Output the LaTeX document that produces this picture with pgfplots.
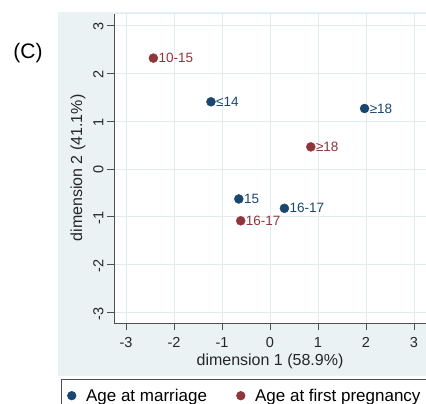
\documentclass[border=0pt]{standalone}
\usepackage{pgfplots}
\pgfplotsset{compat=1.18}
\usepackage{fontspec}
\setmainfont{Liberation Sans}
\definecolor{stblue}{HTML}{1A476F}
\definecolor{stred}{HTML}{90353B}
\definecolor{bgc}{HTML}{EAF2F3}
\definecolor{gridc}{HTML}{E1ECEE}
\definecolor{axc}{HTML}{505050}
\begin{document}
\begin{tikzpicture}[x=1pt,y=1pt]
\path[use as bounding box] (0,0) rectangle (426,-404);
\begin{scope}
\clip (0,0) rectangle (426,-404);
\fill[bgc] (58,-12) rectangle (440,-376);
\node[font=\fontsize{21}{22}\selectfont] at (28,-53) {(C)};
\begin{axis}[
  at={(114pt,-323pt)}, anchor=south west,
  scale only axis, width=312pt, height=310pt,
  xmin=-3.25, xmax=3.25, ymin=-3.21, ymax=3.25,
  axis background/.style={fill=white},
  axis lines*=left,
  axis line style={draw=axc, line width=0.9pt},
  tick style={draw=axc, line width=0.9pt},
  tick align=outside, major tick length=7pt,
  xtick={-3,...,3}, ytick={-3,...,3},
  grid=major, grid style={draw=gridc, line width=0.9pt},
  /pgf/number format/assume math mode=true,
  ticklabel style={font=\fontsize{14.5}{15}\selectfont, text=black!85},
  xticklabel style={yshift=-4pt},
  yticklabel style={rotate=90, anchor=south, xshift=-1pt},
  xlabel={dimension 1 (58.9\%)},
  ylabel={dimension 2 (41.1\%)},
  label style={font=\fontsize{16}{17}\selectfont, text=black!85},
  xlabel style={at={(axis description cs:0.5,-0.125)}, anchor=center},
  ylabel style={at={(axis description cs:-0.1154,0.5)}, anchor=center},
  point meta=explicit symbolic,
  nodes near coords={\pgfplotspointmeta},
  every node near coord/.append style={anchor=west, inner sep=1pt, xshift=4pt, font=\fontsize{13.5}{14}\selectfont},
  legend style={at={(axis description cs:-0.17,-0.1806)}, anchor=north west,
    draw=axc, fill=white, line width=0.6pt, legend columns=2,
    font=\fontsize{17}{18}\selectfont, inner xsep=6.2pt, inner ysep=5pt,
    nodes={inner xsep=0pt, inner ysep=4.5pt},
    /tikz/every odd column/.append style={column sep=10pt},
    /tikz/every even column/.append style={column sep=29.5pt}},
  legend image code/.code={\draw[#1, mark size=4.3pt] plot coordinates {(4.3pt,0pt)};},
  legend cell align=left,
  clip=false,
]
\draw[gridc, line width=0.9pt] (rel axis cs:0,1) -- (rel axis cs:1,1);
\addplot[only marks, mark=*, mark size=4.5pt, color=stblue, every node near coord/.append style={text=stblue}]
  coordinates {
  (-1.23,1.40) [≤14]
  (-0.65,-0.625) [15]
  (0.30,-0.82) [16-17]
  (1.97,1.26) [≥18]
  };
\addlegendentry{Age at marriage}
\addplot[only marks, mark=*, mark size=4.5pt, color=stred, every node near coord/.append style={text=stred}]
  coordinates {
  (-2.43,2.31) [10-15]
  (-0.61,-1.08) [16-17]
  (0.85,0.46) [≥18]
  };
\addlegendentry{Age at first pregnancy}
\end{axis}
\end{scope}
\end{tikzpicture}
\end{document}
